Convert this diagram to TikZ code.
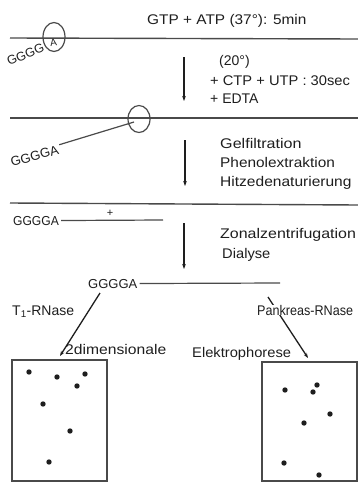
\documentclass[tikz,border=0pt]{standalone}
\usepackage{fontspec}
\setmainfont{Liberation Sans}
\usetikzlibrary{arrows.meta,shapes.geometric}
\definecolor{ink}{HTML}{1E1E1E}
\definecolor{strandgray}{HTML}{4A4A4A}
\begin{document}
\begin{tikzpicture}[x=1pt,y=-1pt,
  lbl/.style={anchor=base west, inner sep=0pt, text=ink,
    font=\fontsize{14}{16}\selectfont},
  seq/.style={anchor=base west, inner sep=0pt, text=ink,
    font=\fontsize{13}{15}\selectfont},
  strand/.style={draw=strandgray, line width=1.4pt},
  ring/.style={ellipse, draw=strandgray, line width=1.2pt, inner sep=0pt},
  flow/.style={draw=ink, line width=1.3pt,
    -{Stealth[length=5pt,width=3.6pt]}},
  plate/.style={draw=strandgray, line width=1.2pt},
  spot/.style={fill=ink},
]
\useasboundingbox (0,0) rectangle (358,482);

% ---- step 1: labelling at the 3' end -------------------------------
\node[lbl, xscale=1.1] (gtp) at (147,24) {GTP + ATP (37°): 5min};
\coordinate (l1a) at (10,38);
\coordinate (l1b) at (358,39);
\draw[strand] (l1a) -- (l1b);
\node[ring, minimum width=22pt, minimum height=29pt] (c1) at (54,37) {};
\node[anchor=base, inner sep=0pt, text=ink, rotate=8,
  font=\fontsize{10}{12}\selectfont] (aA) at (54,46) {A};
\node[seq, rotate=22, font=\fontsize{12.5}{14}\selectfont] (g1) at (9,66) {GGGG};

\coordinate (f1a) at (184,57);
\coordinate (f1b) at (184,101);
\draw[flow] (f1a) -- (f1b);
\node[lbl] (t20) at (219,65) {(20°)};
\node[lbl, xscale=1.05] (tctp) at (210,85) {+ CTP + UTP : 30sec};
\node[lbl] (tedta) at (210,103) {+ EDTA};

% ---- step 2: released strand ----------------------------------------
\coordinate (l2a) at (10,118);
\coordinate (l2b) at (358,118);
\draw[strand] (l2a) -- (l2b);
\node[ring, minimum width=22pt, minimum height=27pt] (c2) at (139,119) {};
\node[seq, rotate=15.6] (g2) at (12,167) {GGGGA};
\coordinate (k2) at (134,122);
\draw[strand, line width=1.2pt] ([xshift=2pt]g2.north east) -- (k2);

\coordinate (f2a) at (185,140);
\coordinate (f2b) at (185,186);
\draw[flow] (f2a) -- (f2b);
\node[lbl, xscale=1.15] (tgel) at (220,148) {Gelfiltration};
\node[lbl, xscale=1.10] (tphen) at (220,167) {Phenolextraktion};
\node[lbl, xscale=1.11] (thitz) at (220,186) {Hitzedenaturierung};

% ---- step 3: isolated fragment --------------------------------------
\coordinate (l3a) at (10,203);
\coordinate (l3b) at (358,205);
\draw[strand] (l3a) -- (l3b);
\node[seq, xscale=0.93] (g3) at (13,225) {GGGGA};
\coordinate (e3) at (163,220);
\draw[strand, line width=1.2pt] ([xshift=2pt]g3.east) -- (e3);
\node[anchor=base, inner sep=0pt, text=ink,
  font=\fontsize{11}{12}\selectfont] (plus) at (110,216) {+};

\coordinate (f3a) at (184,223);
\coordinate (f3b) at (184,269);
\draw[flow] (f3a) -- (f3b);
\node[lbl, xscale=1.14] (tzon) at (220,238) {Zonalzentrifugation};
\node[lbl, xscale=1.05] (tdia) at (222,258) {Dialyse};

% ---- step 4: digestion and fingerprints -----------------------------
\node[seq] (g4) at (88,288) {GGGGA};
\coordinate (e4) at (280,283);
\draw[strand, line width=1.2pt] ([xshift=2pt]g4.east) -- (e4);

\coordinate (d1a) at (100,293);
\coordinate (d1b) at (60,356);
\coordinate (d2a) at (268,297);
\coordinate (d2b) at (308,358);
\draw[flow] (d1a) -- (d1b);
\draw[flow] (d2a) -- (d2b);

\node[lbl] (tT1) at (12,315) {T\textsubscript{1}-RNase};
\node[lbl, xscale=0.9, fill=white] (tPank) at (257,315) {Pankreas-RNase};
\node[lbl, xscale=1.12] (t2dim) at (65,354) {2dimensionale};
\node[lbl, xscale=1.05] (tElek) at (192,357) {Elektrophorese};

% fingerprint plates
\draw[plate] (12,360) rectangle (107,481);
\draw[plate] (262,362) rectangle (357,481);
\foreach \p in {(29,372),(57,377),(85,374),(77,386),(43,404),(70,431),(49,462)}
  \fill[spot] \p circle (2.7);
\foreach \p in {(285,390),(317,385),(313,392),(330,414),(304,423),(284,463),(319,475)}
  \fill[spot] \p circle (2.7);
\end{tikzpicture}
\end{document}
